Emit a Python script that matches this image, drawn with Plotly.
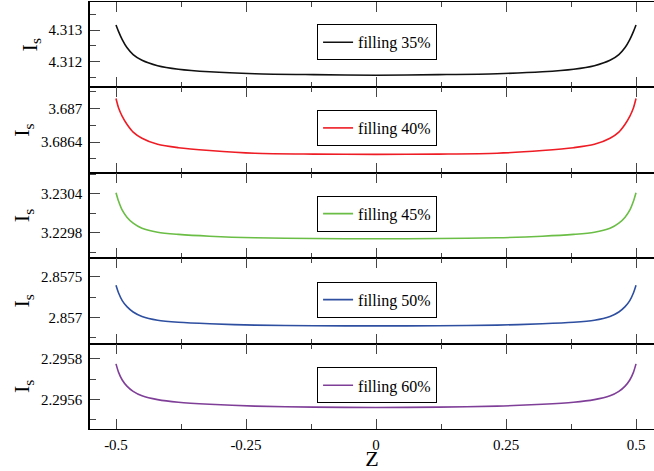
import plotly.graph_objects as go
from plotly.subplots import make_subplots

# ---- data ----
z = [-0.5, -0.495, -0.488, -0.479, -0.467, -0.45, -0.42, -0.38, -0.32, -0.233, -0.12, 0.0,
     0.12, 0.233, 0.32, 0.38, 0.42, 0.45, 0.467, 0.479, 0.488, 0.495, 0.5]

fill35 = [4.313158, 4.31295, 4.31270, 4.31245, 4.31223, 4.31205, 4.31188, 4.31177, 4.31169, 4.31163, 4.31160, 4.31158,
          4.31160, 4.31163, 4.31169, 4.31177, 4.31188, 4.31205, 4.31223, 4.31245, 4.31270, 4.31295, 4.313158]
fill40 = [3.68718, 3.68701, 3.68686, 3.68672, 3.68658, 3.68647, 3.68636, 3.68630, 3.68625, 3.68620, 3.686185, 3.68618,
          3.686185, 3.68620, 3.68625, 3.68630, 3.68636, 3.68647, 3.68658, 3.68672, 3.68686, 3.68701, 3.68718]
fill45 = [3.230415, 3.230283, 3.230146, 3.230039, 3.229947, 3.229868, 3.229807, 3.229775, 3.229747, 3.229723, 3.229712, 3.229708,
          3.229712, 3.229723, 3.229747, 3.229775, 3.229807, 3.229868, 3.229947, 3.230039, 3.230146, 3.230283, 3.230415]
fill50 = [2.857398, 2.857302, 2.857209, 2.857134, 2.857069, 2.857014, 2.856968, 2.856943, 2.856924, 2.856907, 2.856900, 2.856898,
          2.856900, 2.856907, 2.856924, 2.856943, 2.856968, 2.857014, 2.857069, 2.857134, 2.857209, 2.857302, 2.857398]
fill60 = [2.295775, 2.295733, 2.295695, 2.295665, 2.295639, 2.295617, 2.295598, 2.295585, 2.295575, 2.295566, 2.295561, 2.295559,
          2.295561, 2.295566, 2.295575, 2.295585, 2.295598, 2.295617, 2.295639, 2.295665, 2.295695, 2.295733, 2.295775]

series_names = ["filling 35%", "filling 40%", "filling 45%", "filling 50%", "filling 60%"]
series_values = [fill35, fill40, fill45, fill50, fill60]
colors = ["#111111", "#ee1c24", "#6abd45", "#2e4fa0", "#7f3f98"]

x_tickvals = [-0.5, -0.25, 0, 0.25, 0.5]
x_ticktext = ["-0.5", "-0.25", "0", "0.25", "0.5"]

y_tickvals = [[4.312, 4.313], [3.6864, 3.687], [3.2298, 3.2304], [2.857, 2.8575], [2.2956, 2.2958]]
y_ticktext = [["4.312", "4.313"], ["3.6864", "3.687"], ["3.2298", "3.2304"], ["2.857", "2.8575"], ["2.2956", "2.2958"]]
y_minor = [(4.3115, 0.001), (3.6861, 0.0006), (3.2295, 0.0006), (2.85675, 0.0005), (2.2955, 0.0002)]
y_ranges = [[4.3112, 4.31388], [3.68585, 3.68738], [3.22941, 3.23072], [2.85668, 2.85773], [2.295453, 2.295875]]

legend_y = [0.9056, 0.7049, 0.5042, 0.3028, 0.1022]

FONT = "Liberation Serif"

fig = make_subplots(rows=5, cols=1, shared_xaxes=True, vertical_spacing=0)

for i in range(5):
    lg = "legend" if i == 0 else f"legend{i+1}"
    fig.add_trace(go.Scatter(x=z, y=series_values[i], mode="lines", name=series_names[i],
                             line=dict(color=colors[i], width=1.6, shape="spline", smoothing=0.8),
                             legend=lg, showlegend=True), row=i + 1, col=1)
    fig.update_yaxes(row=i + 1, col=1, range=y_ranges[i], tickmode="array",
                     tickvals=y_tickvals[i], ticktext=y_ticktext[i],
                     ticks="inside", ticklen=10, tickwidth=1, tickcolor="#444",
                     minor=dict(tick0=y_minor[i][0], dtick=y_minor[i][1], ticks="inside", ticklen=6,
                                tickwidth=1, tickcolor="#444"),
                     showline=True, linecolor="black", linewidth=1.5, mirror=False,
                     showgrid=False, zeroline=False, ticklabelstandoff=3, automargin=False,
                     tickfont=dict(family=FONT, size=15, color="black"),
                     title=dict(text="I<sub>s</sub>", font=dict(family=FONT, size=22, color="black"), standoff=5))
    fig.update_xaxes(row=i + 1, col=1, range=[-0.55, 0.5346], tickmode="array",
                     tickvals=x_tickvals, ticktext=x_ticktext,
                     ticks="inside", ticklen=10, tickwidth=1, tickcolor="#444",
                     minor=dict(tick0=0, dtick=0.125, ticks="inside", ticklen=5, tickwidth=1, tickcolor="#444"),
                     showline=True, linecolor="black", linewidth=1, mirror="ticks",
                     showgrid=False, zeroline=False, ticklabelstandoff=2, automargin=False,
                     tickfont=dict(family=FONT, size=15, color="black"),
                     showticklabels=(i == 4))
    fig.layout[lg] = dict(x=0.509, xanchor="center", y=legend_y[i], yanchor="middle",
                          bgcolor="white", bordercolor="black", borderwidth=1,
                          font=dict(family=FONT, size=16, color="black"))

fig.update_xaxes(row=5, col=1, title=dict(text="Z", font=dict(family=FONT, size=22, color="black"), standoff=3))

fig.update_layout(width=654, height=471, margin=dict(l=90, r=0, t=2, b=42),
                  paper_bgcolor="white", plot_bgcolor="white")

fig.write_html("out.html", config={"displayModeBar": False},
               post_script="document.body.style.margin='0';document.body.style.padding='0';")
